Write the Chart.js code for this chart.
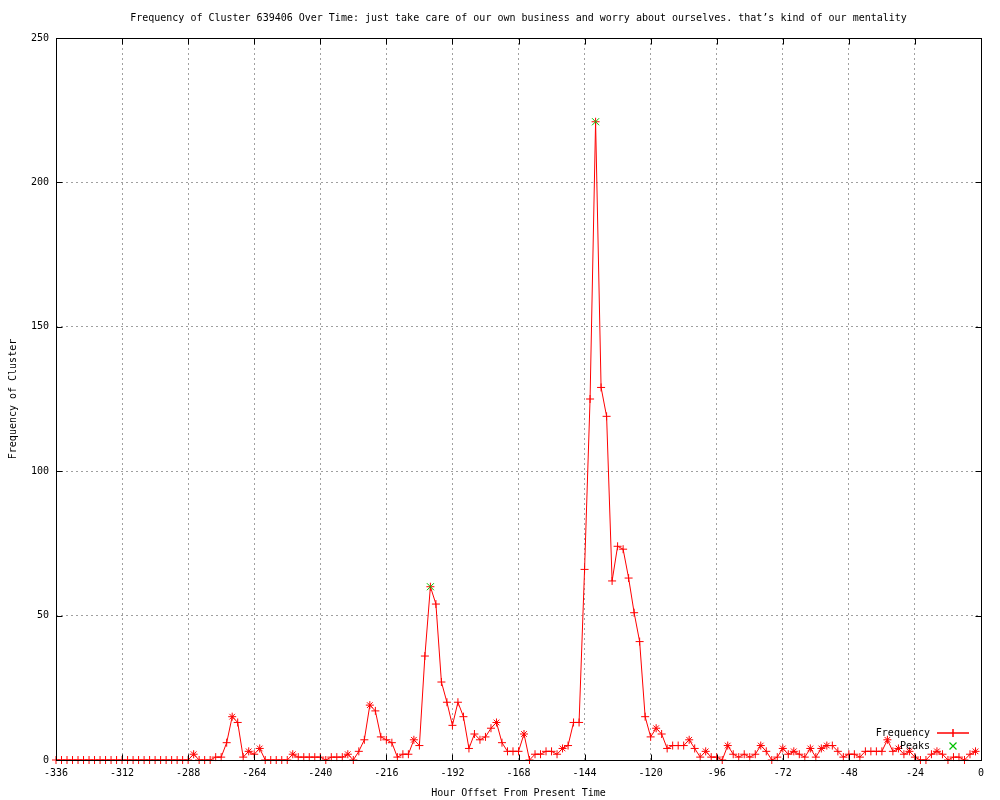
<!DOCTYPE html>
<html>
<head>
<meta charset="utf-8">
<title>Frequency of Cluster 639406 Over Time</title>
<script src="https://cdn.jsdelivr.net/npm/chart.js@4.4.0/dist/chart.umd.min.js"></script>
<style>
  html, body { margin: 0; padding: 0; background: #fff; }
  #chart { display: block; }
</style>
</head>
<body>
<canvas id="chart" width="1000" height="800"></canvas>
<script>
// Chart data (one value every 2 hours)
const chartTitle = 'Frequency of Cluster 639406 Over Time: just take care of our own business and worry about ourselves. that\u2019s kind of our mentality';
const firstHour = -336;
const hourStep = 2;
const frequency = [
    0, 0, 0, 0, 0, 0, 0, 0, 0, 0, 0, 0,
    0, 0, 0, 0, 0, 0, 0, 0, 0, 0, 0, 0,
    0, 2, 0, 0, 0, 1, 1, 6, 15, 13, 1, 3,
    2, 4, 0, 0, 0, 0, 0, 2, 1, 1, 1, 1,
    1, 0, 1, 1, 1, 2, 0, 3, 7, 19, 17, 8,
    7, 6, 1, 2, 2, 7, 5, 36, 60, 54, 27, 20,
    12, 20, 15, 4, 9, 7, 8, 11, 13, 6, 3, 3,
    3, 9, 0, 2, 2, 3, 3, 2, 4, 5, 13, 13,
    66, 125, 221, 129, 119, 62, 74, 73, 63, 51, 41, 15,
    8, 11, 9, 4, 5, 5, 5, 7, 4, 1, 3, 1,
    1, 0, 5, 2, 1, 2, 1, 2, 5, 3, 0, 1,
    4, 2, 3, 2, 1, 4, 1, 4, 5, 5, 3, 1,
    2, 2, 1, 3, 3, 3, 3, 7, 3, 4, 2, 3,
    1, 0, 0, 2, 3, 2, 0, 1, 1, 0, 2, 3
];
// hours where the marker is drawn as a star instead of a plus
const starHours = [-286, -272, -266, -262, -250, -230, -222, -206, -176, -166, -152,
    -118, -106, -100, -92, -80, -72, -68, -62, -58, -56, -34, -30, -26, -16, -2];
const peakHours = [-200, -140];
const peakValues = [60, 221];
const xTickMin = -336;
const xTickMax = 0;
const xTickStep = 24;
const yTickMin = 0;
const yTickMax = 250;
const yTickStep = 50;

const FONT = 'DejaVu Sans Mono';
const RED = 'rgb(255, 0, 0)';
const GREEN = 'rgb(0, 192, 0)';

const hours = frequency.map((v, i) => firstHour + i * hourStep);

/**
 * Title centred over the plot area
 */
const titlePlugin = {
    id: 'plotTitle',
    afterDraw(chart) {
        const ctx = chart.ctx;
        const area = chart.chartArea;
        ctx.save();
        ctx.font = '10px "' + FONT + '"';
        ctx.fillStyle = '#000';
        ctx.textAlign = 'center';
        ctx.textBaseline = 'middle';
        ctx.fillText(chartTitle, (area.left + area.right) / 2, 18);
        ctx.restore();
    }
};

/**
 * Key in the lower right corner of the plot
 */
function drawKey(chart) {
    const ctx = chart.ctx;
    const a = chart.chartArea;
    const textRight = Math.round(a.right) - 51;
    const sampleLeft = Math.round(a.right) - 44;
    const sampleRight = Math.round(a.right) - 12;
    const sampleMid = Math.round((sampleLeft + sampleRight) / 2);
    const row1 = Math.round(a.bottom) - 27;
    const row2 = Math.round(a.bottom) - 14;

    ctx.save();
    ctx.font = '10px "' + FONT + '"';
    ctx.fillStyle = '#000';
    ctx.textAlign = 'right';
    ctx.textBaseline = 'middle';
    ctx.fillText('Frequency', textRight, row1);
    ctx.fillText('Peaks', textRight, row2);

    // red line sample with a plus in the middle
    ctx.lineWidth = 1.5;
    ctx.strokeStyle = RED;
    ctx.beginPath();
    ctx.moveTo(sampleLeft, row1);
    ctx.lineTo(sampleRight, row1);
    ctx.moveTo(sampleMid, row1 - 4);
    ctx.lineTo(sampleMid, row1 + 4);
    ctx.stroke();

    // green cross
    ctx.strokeStyle = GREEN;
    ctx.lineWidth = 1.2;
    ctx.beginPath();
    ctx.moveTo(sampleMid - 3.5, row2 - 3.5);
    ctx.lineTo(sampleMid + 3.5, row2 + 3.5);
    ctx.moveTo(sampleMid - 3.5, row2 + 3.5);
    ctx.lineTo(sampleMid + 3.5, row2 - 3.5);
    ctx.stroke();
    ctx.restore();
}

/**
 * Border box with inward tick marks on all four sides (gnuplot look)
 */
const framePlugin = {
    id: 'frame',
    afterDatasetsDraw(chart) {
        const ctx = chart.ctx;
        const a = chart.chartArea;
        const xs = chart.scales.x;
        const ys = chart.scales.y;
        // same pixel snapping as the grid lines
        const l = Math.round(a.left) + 0.5;
        const r = Math.round(a.right) + 0.5;
        const t = Math.round(a.top) + 0.5;
        const b = Math.round(a.bottom) + 0.5;
        const len = 6;

        ctx.save();
        ctx.strokeStyle = '#000';
        ctx.lineWidth = 1;
        ctx.setLineDash([]);
        ctx.strokeRect(l, t, r - l, b - t);

        ctx.beginPath();
        xs.ticks.forEach(tick => {
            const px = Math.round(xs.getPixelForValue(tick.value)) + 0.5;
            ctx.moveTo(px, b);
            ctx.lineTo(px, b - len);
            ctx.moveTo(px, t);
            ctx.lineTo(px, t + len);
        });
        ys.ticks.forEach(tick => {
            const py = Math.round(ys.getPixelForValue(tick.value)) + 0.5;
            ctx.moveTo(l, py);
            ctx.lineTo(l + len, py);
            ctx.moveTo(r, py);
            ctx.lineTo(r - len, py);
        });
        ctx.stroke();
        ctx.restore();

        drawKey(chart);
    }
};

function axisFont() {
    return { family: FONT, size: 10 };
}

function initChart() {
    const ctx = document.getElementById('chart').getContext('2d');

    new Chart(ctx, {
        type: 'line',
        data: {
            datasets: [{
                label: 'Peaks',
                data: peakHours.map((h, i) => ({ x: h, y: peakValues[i] })),
                showLine: false,
                pointStyle: 'crossRot',
                pointRadius: 5,
                pointBorderWidth: 1,
                pointBorderColor: GREEN,
                pointBackgroundColor: GREEN,
                clip: false
            }, {
                label: 'Frequency',
                data: hours.map((h, i) => ({ x: h, y: frequency[i] })),
                borderColor: RED,
                borderWidth: 1,
                tension: 0,
                pointStyle: c => starHours.includes(hours[c.dataIndex]) ? 'star' : 'cross',
                pointRadius: 4,
                pointBorderWidth: 1,
                pointBorderColor: RED,
                pointBackgroundColor: RED,
                clip: false
            }]
        },
        options: {
            responsive: false,
            animation: false,
            devicePixelRatio: 1,
            layout: {
                padding: { top: 38, right: 19, bottom: 0, left: 0 }
            },
            plugins: {
                legend: { display: false },
                title: { display: false },
                tooltip: { enabled: false }
            },
            scales: {
                x: {
                    type: 'linear',
                    min: xTickMin,
                    max: xTickMax,
                    ticks: {
                        stepSize: xTickStep,
                        autoSkip: false,
                        maxRotation: 0,
                        padding: 7,
                        color: '#000',
                        font: axisFont()
                    },
                    grid: { color: '#a0a0a0', lineWidth: 1, drawTicks: false },
                    border: { display: false, dash: [2, 3] },
                    title: {
                        display: true,
                        text: 'Hour Offset From Present Time',
                        color: '#000',
                        font: axisFont(),
                        padding: { top: 0, bottom: 1 }
                    },
                    afterFit: scale => { scale.height = 40; }
                },
                y: {
                    min: yTickMin,
                    max: yTickMax,
                    ticks: {
                        stepSize: yTickStep,
                        padding: 7,
                        color: '#000',
                        font: axisFont()
                    },
                    grid: { color: '#a0a0a0', lineWidth: 1, drawTicks: false },
                    border: { display: false, dash: [2, 3] },
                    title: {
                        display: true,
                        text: 'Frequency of Cluster',
                        color: '#000',
                        font: axisFont(),
                        padding: { top: 7, bottom: 0 }
                    },
                    afterFit: scale => { scale.width = 56; }
                }
            }
        },
        plugins: [framePlugin, titlePlugin]
    });
}

initChart();
</script>
</body>
</html>
